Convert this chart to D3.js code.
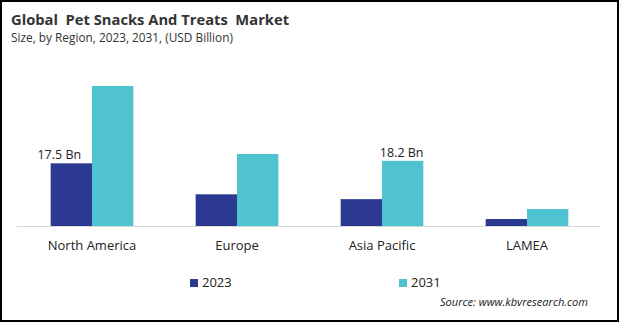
<!DOCTYPE html>
<html>
<head>
<meta charset="utf-8">
<script src="https://cdn.jsdelivr.net/npm/d3@7"></script>
<style>
  body { margin: 0; background: #fff; }
  svg { display: block; font-family: "Open Sans", "Noto Sans", sans-serif; }
</style>
</head>
<body>
<script>
// chart data
var regions = ["North America", "Europe", "Asia Pacific", "LAMEA"];
var years = ["2023", "2031"];
var values2023 = [17.5, 8.85, 7.5, 1.95];
var values2031 = [39.1, 20.1, 18.2, 4.75];
var colors = ["#2b3990", "#4fc3cf"];
// value labels: [region index, year index, text]
var valueLabels = [[0, 0, "17.5 Bn"], [2, 1, "18.2 Bn"]];

var width = 619,
    height = 322;

var svg = d3.select("body")
    .append("svg")
    .attr("width", width)
    .attr("height", height);

svg.append("rect")
    .attr("x", 1).attr("y", 1)
    .attr("width", width - 2).attr("height", height - 2)
    .attr("fill", "#fff")
    .attr("stroke", "#000")
    .attr("stroke-width", 2);

// fit text to a given width by adjusting font size
function fitText(sel, w){
    var len = sel.node().getComputedTextLength();
    var fs = parseFloat(sel.attr("font-size"));
    sel.attr("font-size", (fs * w / len).toFixed(2));
}

var title = svg.append("text")
    .attr("x", 11).attr("y", 25)
    .attr("font-size", 16)
    .attr("font-weight", "bold")
    .attr("fill", "#333")
    .style("white-space", "pre")
    .text("Global  Pet Snacks And Treats  Market");
fitText(title, 278);

var sub = svg.append("text")
    .attr("x", 11).attr("y", 42)
    .attr("font-size", 12)
    .attr("fill", "#333")
    .text("Size, by Region, 2023, 2031, (USD Billion)");
fitText(sub, 222);

// scales
var x0 = d3.scaleBand()
    .domain(regions)
    .range([19.5, 599.5])
    .paddingInner(0.43)
    .paddingOuter(0.215);

var x1 = d3.scaleBand()
    .domain(years)
    .range([0, x0.bandwidth()]);

var y = d3.scaleLinear()
    .domain([0, 39.1])
    .range([226, 86]);

var series = [values2023, values2031];

// baseline
svg.append("line")
    .attr("x1", 17).attr("x2", 600)
    .attr("y1", y(0) + 0.5).attr("y2", y(0) + 0.5)
    .attr("stroke", "#d9d9d9")
    .attr("stroke-width", 1);

// bars
var groups = svg.selectAll(".region")
    .data(regions)
    .enter()
    .append("g")
    .attr("class", "region")
    .attr("transform", function(d){ return "translate(" + x0(d) + ",0)"; });

groups.selectAll("rect")
    .data(function(d, i){
        return years.map(function(yr, j){ return {year: yr, value: series[j][i], k: j}; });
    })
    .enter()
    .append("rect")
    .attr("x", function(d){ return x1(d.year); })
    .attr("y", function(d){ return y(d.value); })
    .attr("width", x1.bandwidth())
    .attr("height", function(d){ return y(0) - y(d.value); })
    .attr("fill", function(d){ return colors[d.k]; });

// value labels
svg.selectAll(".vlabel")
    .data(valueLabels)
    .enter()
    .append("text")
    .attr("class", "vlabel")
    .attr("x", function(d){
        var cx = x0(regions[d[0]]) + x1(years[d[1]]) + x1.bandwidth() / 2;
        return d[1] === 0 ? cx - 12 : cx - 1;
    })
    .attr("y", function(d){ return y(series[d[1]][d[0]]) - 4; })
    .attr("text-anchor", "middle")
    .attr("font-size", 12.5)
    .attr("fill", "#222")
    .text(function(d){ return d[2]; });

// category labels
svg.selectAll(".cat")
    .data(regions)
    .enter()
    .append("text")
    .attr("class", "cat")
    .attr("x", function(d){ return x0(d) + x0.bandwidth() / 2; })
    .attr("y", 250)
    .attr("text-anchor", "middle")
    .attr("font-size", 13)
    .attr("fill", "#222")
    .text(function(d){ return d; });

// legend
var legend = svg.selectAll(".legend")
    .data(years)
    .enter()
    .append("g")
    .attr("class", "legend")
    .attr("transform", function(d, i){ return "translate(" + (190 + i * 209) + ",279)"; });

legend.append("rect")
    .attr("width", 8).attr("height", 8)
    .attr("fill", function(d, i){ return colors[i]; });

legend.append("text")
    .attr("x", 12).attr("y", 8)
    .attr("font-size", 13)
    .attr("fill", "#222")
    .text(function(d){ return d; });

var src = svg.append("text")
    .attr("x", 588).attr("y", 306)
    .attr("text-anchor", "end")
    .attr("font-size", 11)
    .attr("font-style", "italic")
    .attr("fill", "#222")
    .text("Source: www.kbvresearch.com");
fitText(src, 148);
</script>
</body>
</html>
